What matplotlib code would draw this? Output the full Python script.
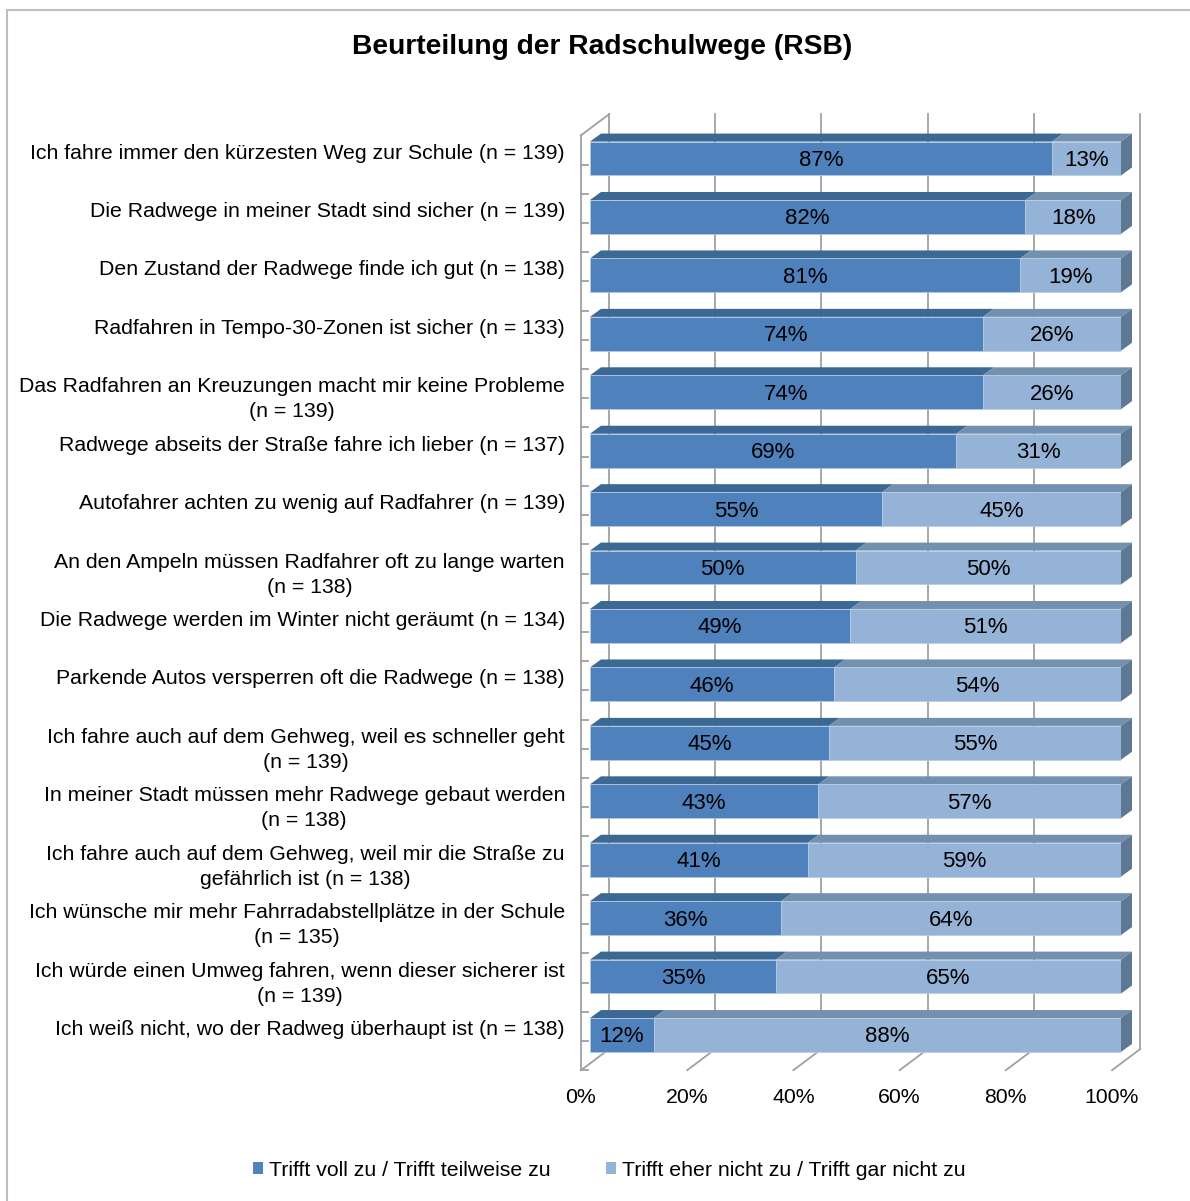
import numpy as np
import matplotlib
matplotlib.use('Agg')
from matplotlib import pyplot as plt
from matplotlib.patches import Polygon, Rectangle, Patch
from matplotlib.transforms import ScaledTranslation

plt.rcParams['font.family'] = ['Liberation Sans', 'DejaVu Sans']

categories = [
    'Ich fahre immer den kürzesten Weg zur Schule (n = 139)',
    'Die Radwege in meiner Stadt sind sicher (n = 139)',
    'Den Zustand der Radwege finde ich gut (n = 138)',
    'Radfahren in Tempo-30-Zonen ist sicher (n = 133)',
    'Das Radfahren an Kreuzungen macht mir keine Probleme\n(n = 139)',
    'Radwege abseits der Straße fahre ich lieber (n = 137)',
    'Autofahrer achten zu wenig auf Radfahrer (n = 139)',
    'An den Ampeln müssen Radfahrer oft zu lange warten\n(n = 138)',
    'Die Radwege werden im Winter nicht geräumt (n = 134)',
    'Parkende Autos versperren oft die Radwege (n = 138)',
    'Ich fahre auch auf dem Gehweg, weil es schneller geht\n(n = 139)',
    'In meiner Stadt müssen mehr Radwege gebaut werden\n(n = 138)',
    'Ich fahre auch auf dem Gehweg, weil mir die Straße zu\ngefährlich ist (n = 138)',
    'Ich wünsche mir mehr Fahrradabstellplätze in der Schule\n(n = 135)',
    'Ich würde einen Umweg fahren, wenn dieser sicherer ist\n(n = 139)',
    'Ich weiß nicht, wo der Radweg überhaupt ist (n = 138)',
]
agree = [87, 82, 81, 74, 74, 69, 55, 50, 49, 46, 45, 43, 41, 36, 35, 12]
disagree = [13, 18, 19, 26, 26, 31, 45, 50, 51, 54, 55, 57, 59, 64, 65, 88]
series_names = ['Trifft voll zu / Trifft teilweise zu',
                'Trifft eher nicht zu / Trifft gar nicht zu']
xticks = [0, 20, 40, 60, 80, 100]

dark = '#4F81BD'
light = '#95B3D7'
dark_top = '#3C6894'
light_top = '#7490AF'
side = '#5E7792'
frame = '#A0A0A0'

W, H = 1190, 1201
fig = plt.figure(figsize=(W / 100, H / 100), dpi=100)

# front plane of the bars, in pixels
left_px, right_px, top_px, bot_px = 590, 1121, 129.3, 1064.2
ax = fig.add_axes([left_px / W, 1 - bot_px / H, (right_px - left_px) / W, (bot_px - top_px) / H])
n = len(categories)
ax.set_xlim(0, 100)
ax.set_ylim(n - 0.5, -0.5)
ax.axis('off')

px_x = 100 / (right_px - left_px)      # data per pixel in x
px_y = n / (bot_px - top_px)           # data per pixel in y (down)

def pt(x, y, dx=0, dy=0):
    # data point shifted by pixels (dy positive = down)
    return (x + dx * px_x, y + dy * px_y)

def shift(dx, dy):
    return ax.transData + ScaledTranslation(dx / 100, -dy / 100, fig.dpi_scale_trans)

# 3d frame: front plane offset and back plane offset (pixels)
fr = (-9, 6)
bk = (19, -15)
lw_f = 1.3
y0, y1 = -0.5, n - 0.5
for xv in xticks:
    p1 = pt(xv, y0, *bk)
    p2 = pt(xv, y1, *bk)
    ax.plot([p1[0], p2[0]], [p1[1], p2[1]], color=frame, lw=lw_f, clip_on=False, zorder=1)
    f = pt(xv, y1, *fr)
    ax.plot([f[0], p2[0]], [f[1], p2[1]], color=frame, lw=lw_f, clip_on=False, zorder=1)
# left wall
a = pt(0, y0, *fr)
b = pt(0, y1, *fr)
c = pt(0, y0, *bk)
ax.plot([a[0], b[0]], [a[1], b[1]], color=frame, lw=lw_f, clip_on=False, zorder=1)
ax.plot([a[0], c[0]], [a[1], c[1]], color=frame, lw=lw_f, clip_on=False, zorder=1)
for k in np.arange(0, n, 0.5):
    t0 = pt(0, k, fr[0], fr[1])
    t1 = pt(0, k, fr[0] + 7, fr[1])
    ax.plot([t0[0], t1[0]], [t0[1], t1[1]], color=frame, lw=lw_f, clip_on=False, zorder=1)

# bars
h = 0.29
ddx, ddy = 11, -8
for i in range(n):
    segs = [(0, agree[i], dark, dark_top), (agree[i], agree[i] + disagree[i], light, light_top)]
    for x0, x1, fc, tc in segs:
        top = [pt(x0, i - h), pt(x1, i - h), pt(x1, i - h, ddx, ddy), pt(x0, i - h, ddx, ddy)]
        ax.add_patch(Polygon(top, closed=True, facecolor=tc, edgecolor='none', zorder=3, clip_on=False))
    xe = agree[i] + disagree[i]
    sd = [pt(xe, i - h), pt(xe, i + h), pt(xe, i + h, ddx, ddy), pt(xe, i - h, ddx, ddy)]
    ax.add_patch(Polygon(sd, closed=True, facecolor=side, edgecolor='none', zorder=3, clip_on=False))

ax.barh(range(n), agree, height=2 * h, color=dark, edgecolor='#B8CCE4', linewidth=0.5, zorder=4)
ax.barh(range(n), disagree, left=agree, height=2 * h, color=light, edgecolor='#B8CCE4', linewidth=0.5, zorder=4)

for i in range(n):
    ax.text(agree[i] / 2, i, f'{agree[i]}%', ha='center', va='center', fontsize=16, zorder=5,
            transform=shift(0, 2))
    ax.text(agree[i] + disagree[i] / 2, i, f'{disagree[i]}%', ha='center', va='center', fontsize=16,
            zorder=5, transform=shift(0, 2))
    ax.text(0, i, categories[i], ha='right', va='top', multialignment='center', fontsize=15.3,
            linespacing=1.4, transform=shift(-25, -15), clip_on=False)

for xv in xticks:
    ax.text(xv, y1, f'{xv}%', ha='center', va='center', fontsize=15.3,
            transform=shift(fr[0], fr[1] + 27), clip_on=False)

fig.text(0.506, 1 - 47 / H, 'Beurteilung der Radschulwege (RSB)', ha='center', va='center',
         fontsize=20.3, fontweight='bold')

handles = [Patch(facecolor=dark), Patch(facecolor=light)]
fig.legend(handles, series_names, loc='center', bbox_to_anchor=(609 / W, 1 - 1170 / H), ncol=2,
           frameon=False, fontsize=15.3, handlelength=0.5, handleheight=0.5, handletextpad=0.25,
           columnspacing=2.6)

# outer chart border
fig.patches.append(Rectangle((7 / W, -0.01), 1.1, 1 - 10 / H + 0.01, transform=fig.transFigure,
                             fill=False, edgecolor='#BFBFBF', lw=1.5))

fig.savefig('out.png', dpi=100)
